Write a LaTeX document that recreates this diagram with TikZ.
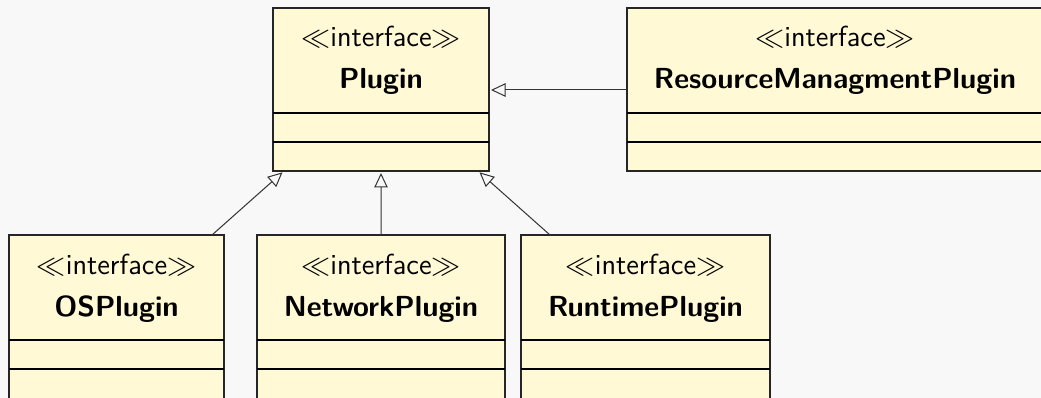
\documentclass[tikz,border=0pt]{standalone}
\usepackage{fix-cm}
\usetikzlibrary{arrows.meta,calc}
\definecolor{bgc}{HTML}{F8F8F8}
\definecolor{boxfill}{HTML}{FFF9D6}
\tikzset{
  umlbox/.style={draw=black!85, fill=boxfill, line width=0.5pt, anchor=north west, inner sep=0pt, outer sep=0pt},
  sep/.style={draw=black, line width=0.5pt},
  stereo/.style={anchor=base, inner sep=0pt, font=\fontsize{11.6}{14}\selectfont\sffamily},
  cname/.style={anchor=base, inner sep=0pt, font=\fontsize{11.6}{14}\selectfont\sffamily\bfseries},
  inherit/.style={draw=black!80, line width=0.4pt, -{Triangle[open, length=5.8pt, width=5.4pt]}, shorten >=0.8pt},
}
\begin{document}
\begin{tikzpicture}[x=0.4pt, y=-0.4pt]
\clip (0,0) rectangle (1041,398);
\fill[bgc] (0,0) rectangle (1041,398);
% boxes
\node[umlbox, minimum width=86.4pt, minimum height=65.2pt] (plugin) at (273,8) {};
\node[umlbox, minimum width=168pt, minimum height=65.2pt] (resource) at (627,8) {};
\node[umlbox, minimum width=86pt, minimum height=66pt] (os) at (9,235) {};
\node[umlbox, minimum width=99.2pt, minimum height=66pt] (network) at (257,235) {};
\node[umlbox, minimum width=99.6pt, minimum height=66pt] (runtime) at (521,235) {};
% separators
\foreach \b in {plugin,resource,os,network,runtime}{
  \draw[sep] ([yshift=-42pt]\b.north west) -- ([yshift=-42pt]\b.north east);
  \draw[sep] ([yshift=-53.6pt]\b.north west) -- ([yshift=-53.6pt]\b.north east);
}
% texts
\node[stereo] (plugin-st) at (381,47) {$\ll$interface$\gg$};
\node[cname] (plugin-nm) at (381,89) {Plugin};
\node[stereo] (resource-st) at (835,47) {$\ll$interface$\gg$};
\node[cname] (resource-nm) at (835,89) {ResourceManagmentPlugin};
\node[stereo] (os-st) at (116.5,275) {$\ll$interface$\gg$};
\node[cname] (os-nm) at (116.5,317) {OSPlugin};
\node[stereo] (network-st) at (381,275) {$\ll$interface$\gg$};
\node[cname] (network-nm) at (381,317) {NetworkPlugin};
\node[stereo] (runtime-st) at (645.5,275) {$\ll$interface$\gg$};
\node[cname] (runtime-nm) at (645.5,317) {RuntimePlugin};
% connectors
\draw[inherit] ([xshift=-4.8pt]os.north east) -- ([xshift=4.4pt]plugin.south west);
\draw[inherit] (network.north) -- (plugin.south);
\draw[inherit] ([xshift=11.6pt]runtime.north west) -- ([xshift=-4.4pt]plugin.south east);
\draw[inherit] ([yshift=-32.8pt]resource.north west) -- ([yshift=-32.8pt]plugin.north east);
\end{tikzpicture}
\end{document}
